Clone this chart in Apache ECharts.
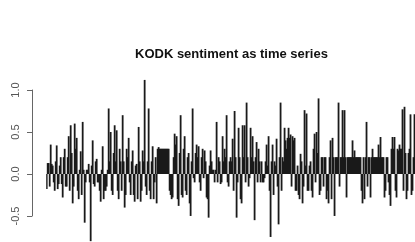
<!DOCTYPE html>
<html>
<head>
<meta charset="utf-8">
<script src="https://cdn.jsdelivr.net/npm/echarts@6/dist/echarts.min.js"></script>
<style>
  html, body { margin: 0; padding: 0; background: #fff; }
  #chart { width: 415px; height: 242px; }
</style>
</head>
<body>
<div id="chart"></div>
<script>
  // sentiment spikes, read left to right (every other observation)
  const peaks = [
    -0.18, 0.13, 0.35, 0.1, -0.2, 0.34, -0.12, 0.2, -0.28, 0.3,
    -0.15, 0.45, 0.58, -0.35, 0.6, 0.43, -0.3, 0.27, 0.62, -0.58,
    0.05, 0.12, -0.8, 0.4, -0.15, 0.18, -0.1, -0.33, 0.33, -0.2,
    -0.15, 0.78, 0.5, -0.25, 0.58, 0.52, -0.3, 0.15, 0.7, -0.4,
    0.3, 0.43, -0.25, 0.28, -0.33, 0.12, 0.56, -0.33, 0.28, 1.12,
    -0.25, 0.78, -0.3, 0.33, -0.1, -0.35, 0.32, 0.3, 0.3, 0.3,
    0.3, 0.3, -0.25, -0.28, 0.48, 0.45, -0.38, 0.7, -0.28, 0.45,
    -0.25, 0.25, -0.5, 0.78, -0.1, 0.35, 0.33, -0.2, 0.3, 0.28,
    -0.28, -0.52, 0.28, 0.05, -0.1, 0.62, 0.2, -0.12, 0.45, 0.3,
    0.7, -0.15, 0.2, 0.42, 0.75, -0.52, 0.55, -0.3, 0.58, 0.58, 0.85,
    -0.15, 0.55, 0.45, -0.55, 0.38, 0.3, -0.1, -0.1, -0.05, 0.35,
    0.45, -0.75, 0.35, 0.15, 0.42, -0.6, 0.85, 0.2, 0.55, 0.3,
    0.55, 0.47, 0.45, 0.43, -0.2, -0.25, 0.24, -0.35, 0.76, 0.72,
    -0.2, 0.15, -0.28, 0.48, 0.5, 0.9, -0.2, 0.2, 0.2, -0.3,
    -0.35, 0.4, 0.43, -0.5, 0.2, 0.85, 0.2, 0.76, 0.76, -0.28,
    0.2, 0.2, 0.4, 0.28, 0.2, 0.2, 0.2, -0.35, -0.3, 0.62,
    0.2, -0.28, 0.3, 0.2, 0.2, 0.35, 0.44, 0.2, -0.28, 0.2,
    -0.1, -0.38, 0.44, 0.44, -0.28, 0.28, 0.3, 0.77, 0.8, -0.3,
    0.25, 0.71, -0.2, 0.71
  ];
  // the observations in between the spikes (the dense black band)
  const between = [
    0.13, -0.15, 0.12, -0.1, 0.15, -0.18, 0.1, -0.12, 0.2, -0.15,
    0.2, -0.2, 0.25, -0.15, 0.3, -0.2, 0.05, -0.25, 0.05, -0.1,
    0.05, -0.1, 0.1, -0.12, 0.15, -0.1, -0.2, 0.05, -0.3, -0.2,
    0.05, 0.15, -0.2, 0.25, 0.15, -0.2, 0.3, -0.2, 0.15, -0.25,
    0.2, -0.1, 0.15, -0.25, 0.1, -0.3, 0.15, -0.2, 0.15, -0.15,
    0.15, -0.2, 0.15, -0.3, 0.2, 0.3, 0.3, 0.3, 0.3, 0.3,
    0.3, -0.2, -0.3, 0.2, 0.35, -0.3, 0.25, -0.25, 0.3, -0.2,
    0.2, -0.35, 0.15, -0.05, 0.25, 0.2, -0.1, 0.2, -0.05, 0.15,
    -0.3, 0.1, 0.15, 0.05, 0.05, -0.1, 0.15, -0.1, 0.15, 0.2,
    -0.1, 0.15, 0.15, -0.2, 0.2, -0.1, 0.2, -0.35, 0.2, -0.1,
    0.2, -0.05, 0.2, 0.15, 0.2, -0.1, 0.15, 0.15, -0.1, 0.15,
    0.1, -0.2, 0.15, -0.25, 0.1, -0.15, 0.2, -0.2, 0.15, 0.4,
    0.43, 0.43, -0.15, 0.4, -0.2, 0.1, -0.3, 0.15, -0.15, 0.1,
    -0.2, 0.1, -0.2, 0.3, -0.1, 0.25, -0.25, 0.2, -0.15, 0.2,
    -0.2, 0.2, -0.3, 0.2, 0.2, 0.2, -0.15, 0.2, 0.2, 0.2,
    0.2, 0.2, 0.2, 0.2, 0.2, 0.2, 0.2, -0.2, 0.2, 0.2,
    -0.15, 0.2, 0.2, 0.2, 0.2, 0.2, 0.2, 0.2, 0.2, -0.2,
    0.2, -0.25, 0.3, 0.3, -0.2, 0.3, 0.35, 0.3, -0.2, 0.25,
    -0.2, 0.3, -0.25, 0.2
  ];
  const yTicks = [-0.5, 0.0, 0.5, 1.0];

  // full series in time order
  const sentiment = [];
  peaks.forEach((v, i) => {
    sentiment.push(v);
    if (i < between.length) sentiment.push(between[i]);
  });
  const index = sentiment.map((_, i) => i + 1);

  const chart = echarts.init(document.getElementById('chart'), null, { renderer: 'canvas' });

  const option = {
    backgroundColor: '#ffffff',
    animation: false,
    title: {
      text: 'KODK sentiment as time series',
      left: 130,
      top: 43,
      textStyle: {
        fontFamily: 'Liberation Sans, Arial, sans-serif',
        fontSize: 13,
        fontWeight: 'bold',
        color: '#111'
      }
    },
    grid: [
      // plot area, cut off at the bottom and right like the original
      { left: 46.2, top: 73.2, width: 369, height: 168.8 },
      // separate R style y axis, only from -0.5 to 1.0
      { left: 32, top: 90, width: 1, height: 126 }
    ],
    xAxis: [
      { type: 'category', gridIndex: 0, data: index, show: false },
      { type: 'value', gridIndex: 1, show: false }
    ],
    yAxis: [
      { type: 'value', gridIndex: 0, min: -0.81, max: 1.2, show: false },
      {
        type: 'value',
        gridIndex: 1,
        min: yTicks[0],
        max: yTicks[yTicks.length - 1],
        interval: 0.5,
        axisLine: { show: true, lineStyle: { color: '#666', width: 1 } },
        axisTick: { show: true, length: 5, lineStyle: { color: '#666' } },
        splitLine: { show: false },
        axisLabel: {
          rotate: 90,
          margin: 11,
          fontSize: 11,
          color: '#555',
          fontFamily: 'Liberation Sans, Arial, sans-serif',
          formatter: (v) => v.toFixed(1)
        }
      }
    ],
    series: [
      {
        type: 'bar',
        xAxisIndex: 0,
        yAxisIndex: 0,
        data: sentiment,
        barWidth: 1.8,
        itemStyle: { color: '#1a1a1a' },
        silent: true
      }
    ]
  };
  chart.setOption(option);
</script>
</body>
</html>
